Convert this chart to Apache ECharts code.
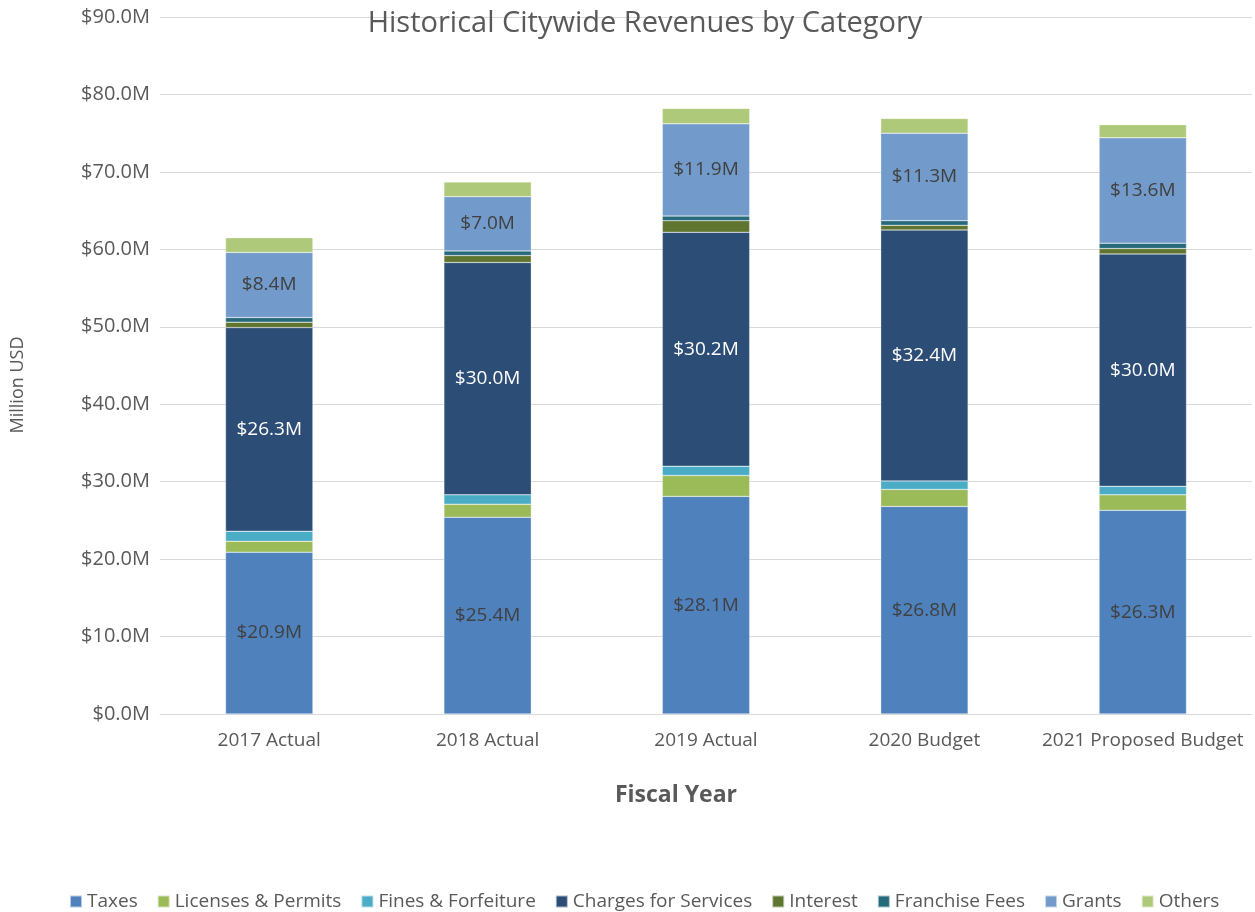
<!DOCTYPE html>
<html>
<head>
<meta charset="utf-8">
<script src="https://cdn.jsdelivr.net/npm/echarts@6/dist/echarts.min.js"></script>
<style>
	html,body{margin:0;padding:0;background:#fff;}
	#main{width:1255px;height:912px;}
</style>
</head>
<body>
<div id="main"></div>
<script>
// 分类
var years=["2017 Actual","2018 Actual","2019 Actual","2020 Budget","2021 Proposed Budget"];
var yTicks=[0,10,20,30,40,50,60,70,80,90];
// 各类收入 (百万美元)
var taxes=[20.9,25.4,28.1,26.8,26.3];
var licenses=[1.4,1.7,2.7,2.2,2.0];
var fines=[1.3,1.2,1.2,1.1,1.1];
var charges=[26.3,30.0,30.2,32.4,30.0];
var interest=[0.7,0.9,1.5,0.6,0.7];
var franchise=[0.6,0.6,0.6,0.6,0.7];
var grants=[8.4,7.0,11.9,11.3,13.6];
var others=[1.9,1.9,2.0,1.9,1.7];

var font="'Open Sans', 'DejaVu Sans', sans-serif";
var myChart=echarts.init(document.getElementById("main"));

function makeSeries(name,data,color,labelColor){
	var s={
		name:name,
		type:'bar',
		stack:'total',
		barWidth:'40%',
		data:data,
		itemStyle:{color:color,borderColor:'rgba(255,255,255,0.6)',borderWidth:0.5},
		label:{show:false}
	};
	if(labelColor){
		s.label={
			show:true,
			position:'inside',
			color:labelColor,
			fontSize:19,
			fontFamily:font,
			formatter:function(p){return "$"+p.value.toFixed(1)+"M";}
		};
	}
	return s;
}

var option={
	backgroundColor:'#fff',
	animation:false,
	title:[{
		text:"Historical Citywide Revenues by Category",
		left:640,
		top:4,
		textAlign:'center',
		textStyle:{color:'#595959',fontSize:29,fontWeight:'normal',fontFamily:font}
	},{
		text:"Fiscal Year",
		left:671,
		top:779,
		textAlign:'center',
		textStyle:{color:'#595959',fontSize:23,fontWeight:'bold',fontFamily:font}
	}],
	graphic:[{
		type:'text',
		x:18,
		y:385,
		rotation:Math.PI/2,
		style:{
			text:"Million USD",
			fill:'#595959',
			font:"18px "+font,
			align:'center',
			verticalAlign:'middle'
		}
	}],
	grid:{left:160,right:3,top:17,bottom:198,containLabel:false},
	legend:{
		top:887,
		left:64,
		itemWidth:12,
		itemHeight:12,
		itemGap:19,
		icon:'rect',
		textStyle:{color:'#595959',fontSize:19,fontFamily:font},
		data:["Taxes","Licenses & Permits","Fines & Forfeiture","Charges for Services","Interest","Franchise Fees","Grants","Others"]
	},
	xAxis:{
		type:'category',
		data:years,
		axisLine:{lineStyle:{color:'#d9d9d9'}},
		axisTick:{show:false},
		axisLabel:{color:'#595959',fontSize:19,fontFamily:font,margin:17,interval:0}
	},
	yAxis:{
		type:'value',
		min:yTicks[0],
		max:yTicks[yTicks.length-1],
		interval:10,
		axisLine:{show:false},
		axisTick:{show:false},
		splitLine:{lineStyle:{color:'#d9d9d9',width:1}},
		axisLabel:{
			color:'#595959',fontSize:20,fontFamily:font,margin:10,
			formatter:function(v){return "$"+v.toFixed(1)+"M";}
		}
	},
	series:[
		makeSeries("Taxes",taxes,'#4f81bd','#404040'),
		makeSeries("Licenses & Permits",licenses,'#9bbb59'),
		makeSeries("Fines & Forfeiture",fines,'#4bacc6'),
		makeSeries("Charges for Services",charges,'#2c4d75','#ffffff'),
		makeSeries("Interest",interest,'#5f7530'),
		makeSeries("Franchise Fees",franchise,'#276a7c'),
		makeSeries("Grants",grants,'#729aca','#404040'),
		makeSeries("Others",others,'#afc97a')
	]
};
myChart.setOption(option);
</script>
</body>
</html>
